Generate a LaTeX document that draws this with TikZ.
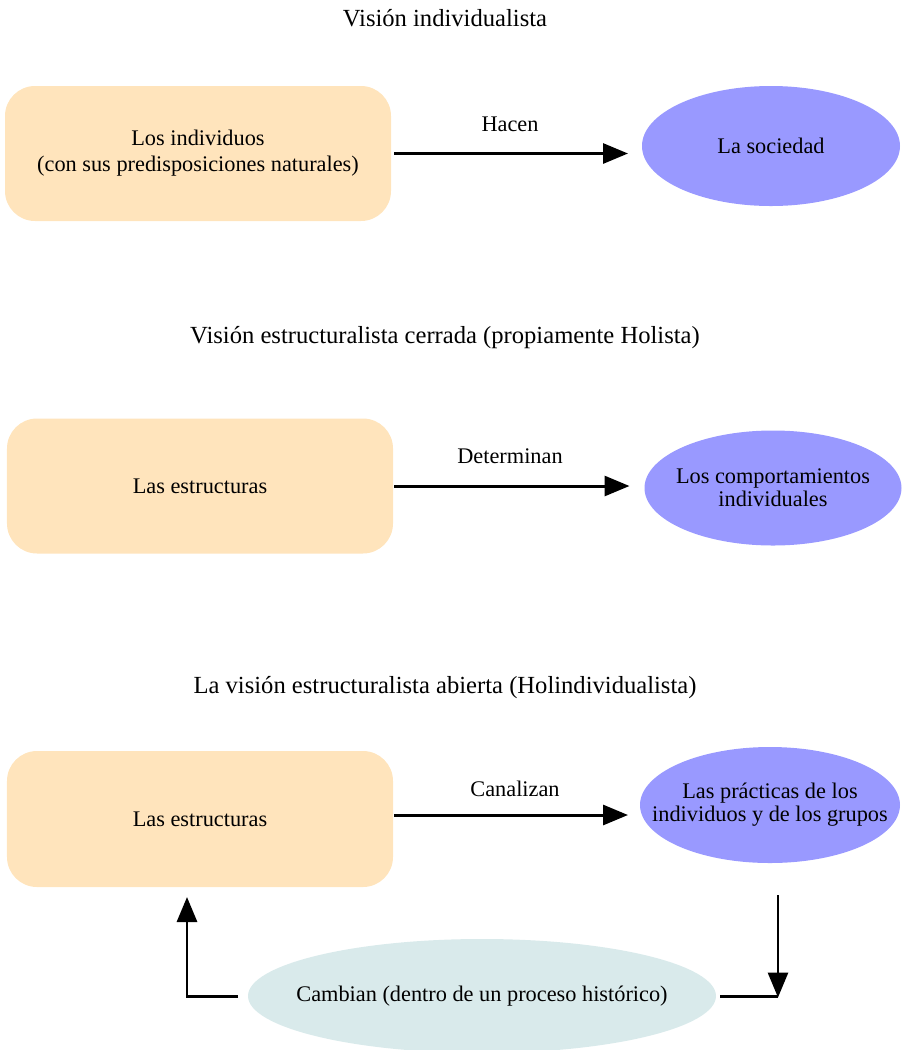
\documentclass[tikz,border=0pt]{standalone}
\usepackage{fontspec}
\setmainfont{Liberation Serif}
\usetikzlibrary{arrows.meta, shapes.geometric}
\begin{document}
\begin{tikzpicture}[
  font=\fontsize{12.7}{14.7}\selectfont,
  every node/.style={inner sep=0pt, outer sep=0pt},
  titulo/.style={anchor=center, font=\fontsize{14}{16}\selectfont},
  caja/.style={fill=CajaBg, rounded corners=0.6cm, minimum width=7.72cm, minimum height=2.70cm, align=center},
  elipse/.style={ellipse, fill=ElipBg, inner sep=-1.5cm, align=center, font=\fontsize{12.7}{13}\selectfont},
  flujo/.style={line width=1.7pt, -{Triangle[length=0.5cm, width=0.4cm]}},
  linea/.style={line width=1.7pt},
  etiqueta/.style={anchor=center},
]

% ── colors ──
\definecolor{CajaBg}{HTML}{FFE4BC}
\definecolor{ElipBg}{HTML}{9999FF}
\definecolor{CambioBg}{HTML}{D9EAEB}

\useasboundingbox (0,0) rectangle (18.06,-21.00);

% ── Visión individualista ──
\node[titulo] (tit1) at (8.90,-0.36) {Visión individualista};
\node[caja] (indiv) at (3.96,-3.07) {Los individuos\\(con sus predisposiciones naturales)};
\node[elipse, minimum width=5.16cm, minimum height=2.40cm] (soc) at (15.42,-2.92) {La sociedad};
\draw[flujo, shorten <=0.06cm, shorten >=0.28cm] (indiv.east) -- (indiv.east -| soc.west);
\node[etiqueta] (hacen) at (10.20,-2.48) {Hacen};

% ── Visión estructuralista cerrada ──
\node[titulo] (tit2) at (8.90,-6.76) {Visión estructuralista cerrada (propiamente Holista)};
\node[caja] (estr2) at (4.00,-9.72) {Las estructuras};
\node[elipse, minimum width=5.14cm, minimum height=2.30cm] (comp) at (15.46,-9.76) {Los comportamientos\\individuales};
\draw[flujo, shorten <=0.02cm, shorten >=0.30cm] (estr2.east) -- (estr2.east -| comp.west);
\node[etiqueta] (determ) at (10.20,-9.12) {Determinan};

% ── Visión estructuralista abierta ──
\node[titulo] (tit3) at (8.90,-13.76) {La visión estructuralista abierta (Holindividualista)};
\node[caja, minimum height=2.72cm] (estr3) at (4.00,-16.38) {Las estructuras};
\node[elipse, minimum width=5.20cm, minimum height=2.32cm] (prac) at (15.40,-16.10) {Las prácticas de los\\individuos y de los grupos};
\draw[flujo, shorten <=0.02cm, shorten >=0.24cm] (estr3.east |- 0,-16.30) -- (prac.west |- 0,-16.30);
\node[etiqueta] (canal) at (10.30,-15.78) {Canalizan};

\node[ellipse, fill=CambioBg, inner sep=-1.5cm, minimum width=9.36cm, minimum height=2.28cm] (cambio) at (9.64,-19.92) {Cambian (dentro de un proceso histórico)};
\coordinate (izq) at (3.74,-19.92);
\coordinate (der) at (15.56,-19.92);
\draw[flujo, shorten <=0.20cm, shorten >=0.20cm] (cambio.west) -- (izq) -- (izq |- estr3.south);
\draw[linea, shorten <=0.08cm] (cambio.east) -- (der);
\draw[flujo, shorten <=0.64cm] (der |- prac.south) -- ([yshift=-0.85pt]der);

\end{tikzpicture}
\end{document}
